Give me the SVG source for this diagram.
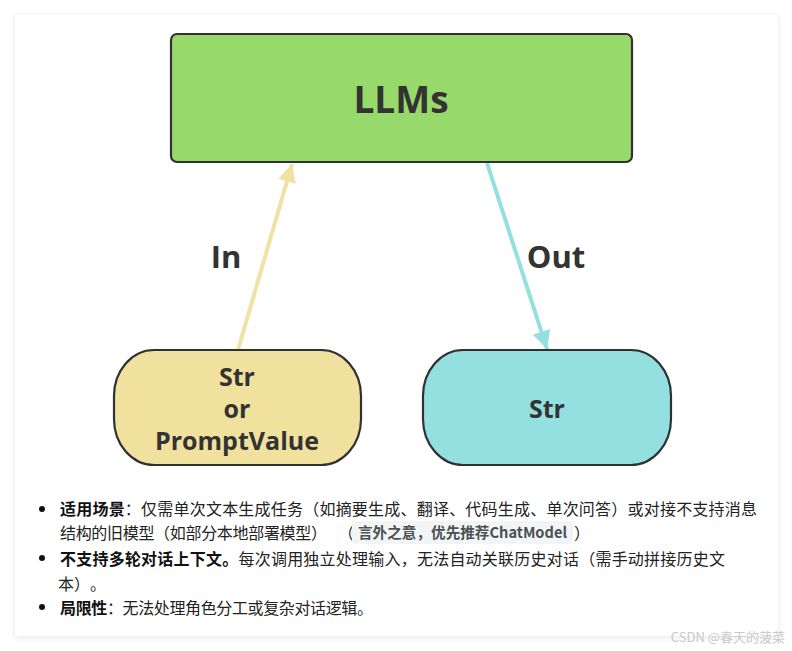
<svg xmlns="http://www.w3.org/2000/svg" width="792" height="651" viewBox="0 0 792 651">
<defs>
<filter id="sh" x="-5%" y="-5%" width="110%" height="110%">
<feDropShadow dx="0" dy="1" stdDeviation="3" flood-color="#000" flood-opacity="0.10"/>
</filter>
<marker id="ahY" viewBox="0 0 10 10" refX="10" refY="5" markerWidth="6.5" markerHeight="4.5" orient="auto" markerUnits="strokeWidth">
<path d="M0,0 L10,5 L0,10 z" fill="#f0e2a2"/>
</marker>
<marker id="ahC" viewBox="0 0 10 10" refX="10" refY="5" markerWidth="6.5" markerHeight="4.5" orient="auto" markerUnits="strokeWidth">
<path d="M0,0 L10,5 L0,10 z" fill="#94dfe0"/>
</marker>
</defs>
<style>
.node{stroke:#2f3133;stroke-width:2.2}
.lbl{font-family:"Open Sans","Noto Sans","DejaVu Sans",sans-serif;font-weight:700;fill:#333;text-anchor:middle}
.t{font-family:"Noto Sans CJK SC","Noto Sans",sans-serif;font-size:16px;fill:#222}
.b{font-weight:700;fill:#111}
.code{font-family:"Noto Sans CJK SC","Noto Sans",sans-serif;font-size:15px;font-weight:700;fill:#4b5055}
</style>
<rect x="0" y="0" width="792" height="651" fill="#ffffff"/>
<rect x="15" y="15" width="763" height="621" fill="#ffffff" filter="url(#sh)"/>

<g id="connectors">
<line x1="238" y1="350" x2="292" y2="164" stroke="#f0e2a2" stroke-width="4" marker-end="url(#ahY)"/>
<line x1="487" y1="163" x2="547" y2="349" stroke="#94dfe0" stroke-width="4" marker-end="url(#ahC)"/>
<text class="lbl" x="226" y="268" font-size="31">In</text>
<text class="lbl" x="556" y="268" font-size="31">Out</text>
</g>

<g id="llms">
<rect class="node" x="171" y="34" width="461" height="128" rx="6" fill="#97d96a"/>
<text class="lbl" x="401" y="113" font-size="37">LLMs</text>
</g>

<g id="input">
<rect class="node" x="114" y="350" width="247" height="115" rx="40" ry="46" fill="#f0e19e"/>
<text class="lbl" x="237" y="386" font-size="25">Str</text>
<text class="lbl" x="237" y="418" font-size="25">or</text>
<text class="lbl" x="237" y="450" font-size="25">PromptValue</text>
</g>

<g id="output">
<rect class="node" x="423" y="350" width="248" height="115" rx="40" ry="46" fill="#94dfe0"/>
<text class="lbl" x="547" y="418" font-size="25">Str</text>
</g>

<g id="notes">
<circle cx="42" cy="509" r="3" fill="#111"/>
<circle cx="42" cy="558" r="3" fill="#111"/>
<circle cx="42" cy="607" r="3" fill="#111"/>
<text class="t" x="60" y="515" textLength="697" lengthAdjust="spacing"><tspan class="b">适用场景</tspan>：仅需单次文本生成任务（如摘要生成、翻译、代码生成、单次问答）或对接不支持消息</text>
<text class="t" x="60" y="539" textLength="267" lengthAdjust="spacing">结构的旧模型（如部分本地部署模型）</text>
<text class="t" x="338" y="539">（</text>
<rect x="352" y="521" width="221" height="23" rx="4" fill="#f2f5f5"/>
<text class="code" x="358" y="538" textLength="209" lengthAdjust="spacingAndGlyphs">言外之意，优先推荐ChatModel</text>
<text class="t" x="574" y="539">）</text>
<text class="t" x="60" y="565" textLength="665" lengthAdjust="spacing"><tspan class="b">不支持多轮对话上下文。</tspan>每次调用独立处理输入，无法自动关联历史对话（需手动拼接历史文</text>
<text class="t" y="590"><tspan x="58">本</tspan><tspan x="74">）</tspan><tspan x="90">。</tspan></text>
<text class="t" x="60" y="614" textLength="313" lengthAdjust="spacing"><tspan class="b">局限性</tspan>：无法处理角色分工或复杂对话逻辑。</text>
</g>

<text x="785" y="642" text-anchor="end" font-family="'Noto Sans CJK SC','Noto Sans',sans-serif" font-size="13" fill="#c9c9c9">CSDN @春天的菠菜</text>
</svg>
